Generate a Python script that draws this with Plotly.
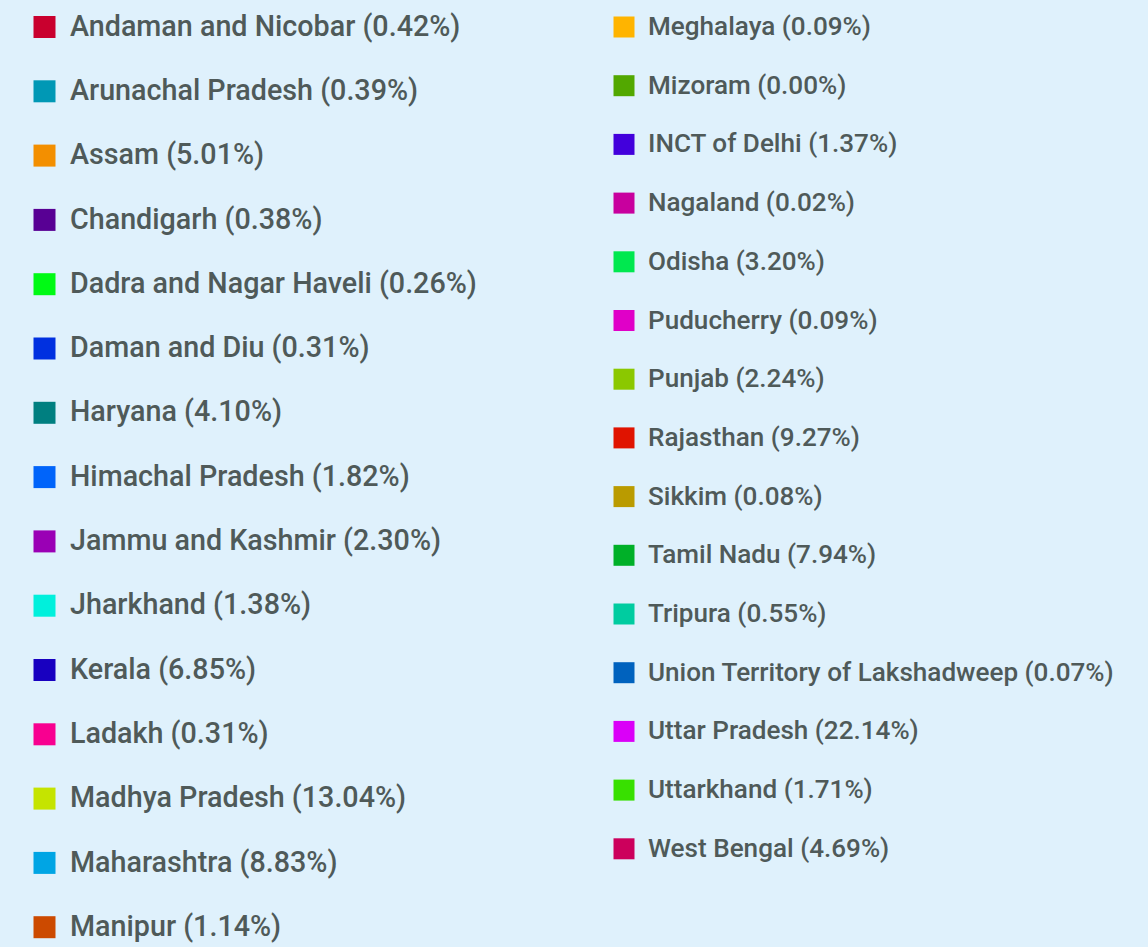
import plotly.graph_objects as go

# ---- data ----
left_names = ["Andaman and Nicobar", "Arunachal Pradesh", "Assam", "Chandigarh",
              "Dadra and Nagar Haveli", "Daman and Diu", "Haryana", "Himachal Pradesh",
              "Jammu and Kashmir", "Jharkhand", "Kerala", "Ladakh", "Madhya Pradesh",
              "Maharashtra", "Manipur"]
left_values = [0.42, 0.39, 5.01, 0.38, 0.26, 0.31, 4.10, 1.82, 2.30, 1.38, 6.85, 0.31,
               13.04, 8.83, 1.14]
left_colors = ["#c9002e", "#0098b5", "#f38f00", "#580094", "#00fa14", "#0030e0",
               "#007f80", "#0064fa", "#9a00b5", "#00f0dc", "#1800c0", "#f80090",
               "#c5e400", "#00a5e4", "#cc4a00"]

right_names = ["Meghalaya", "Mizoram", "INCT of Delhi", "Nagaland", "Odisha",
               "Puducherry", "Punjab", "Rajasthan", "Sikkim", "Tamil Nadu", "Tripura",
               "Union Territory of Lakshadweep", "Uttar Pradesh", "Uttarkhand",
               "West Bengal"]
right_values = [0.09, 0.00, 1.37, 0.02, 3.20, 0.09, 2.24, 9.27, 0.08, 7.94, 0.55, 0.07,
                22.14, 1.71, 4.69]
right_colors = ["#ffb400", "#52a800", "#4200dc", "#c8009e", "#00e84f", "#e000c8",
                "#8bc800", "#e01300", "#ba9b00", "#00b028", "#00cca0", "#0062be",
                "#da00f8", "#38e000", "#cc005c"]

# ---- layout constants (pixel space) ----
W, H = 1148, 947
TEXT_COLOR = "#4f5a59"
BG = "#dff1fc"

columns = [
    dict(names=left_names, values=left_values, colors=left_colors,
         mx=44.5, tx=70, y0=27, step=64.3, size=28.7, msize=22),
    dict(names=right_names, values=right_values, colors=right_colors,
         mx=624, tx=648, y0=27, step=58.7, size=26.1, msize=21),
]

fig = go.Figure()
for col in columns:
    n = len(col["names"])
    ys = [col["y0"] + i * col["step"] for i in range(n)]
    labels = [f"{nm} ({v:.2f}%)" for nm, v in zip(col["names"], col["values"])]
    fig.add_trace(go.Scatter(
        x=[col["mx"]] * n, y=ys, mode="markers",
        marker=dict(symbol="square", size=col["msize"], color=col["colors"],
                    line=dict(width=0)),
        hoverinfo="skip", showlegend=False))
    fig.add_trace(go.Scatter(
        x=[col["tx"]] * n, y=[y + 1.5 for y in ys], mode="text", text=labels,
        textposition="middle right",
        textfont=dict(family="Roboto", size=col["size"], color=TEXT_COLOR, weight=500),
        hoverinfo="skip", showlegend=False))

fig.update_layout(
    width=W, height=H,
    margin=dict(l=0, r=0, t=0, b=0),
    paper_bgcolor=BG, plot_bgcolor=BG,
    xaxis=dict(range=[0, W], visible=False, fixedrange=True),
    yaxis=dict(range=[H, 0], visible=False, fixedrange=True),
)

fig.write_html(
    "out.html",
    config={"displayModeBar": False},
    post_script="document.body.style.margin='0';document.body.style.background='%s';" % BG,
)
